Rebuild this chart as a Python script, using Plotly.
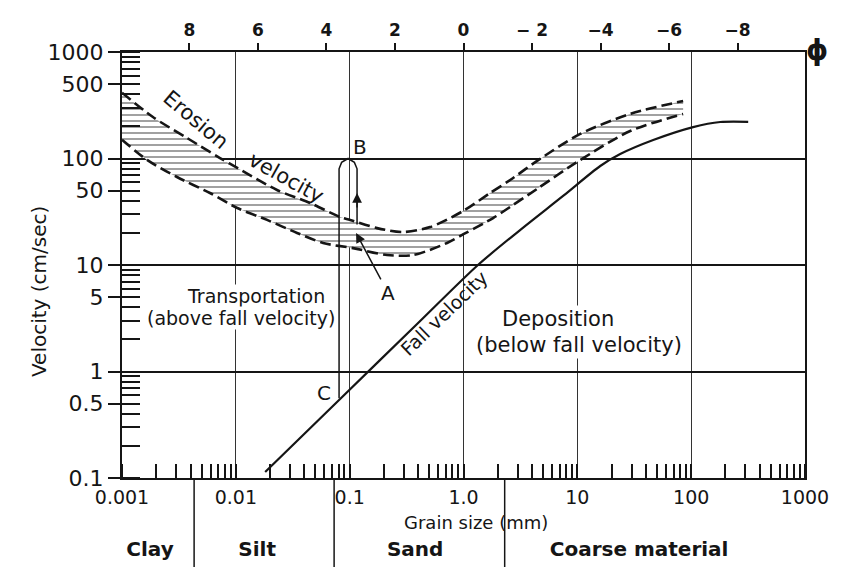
import math
import plotly.graph_objects as go

# ---- data -------------------------------------------------------------
# upper and lower limits of the erosion-velocity band (grain size mm, cm/s)
erosion_upper_size = [0.001, 0.00187, 0.00372, 0.00726, 0.0103, 0.023, 0.0449, 0.0824,
                      0.101, 0.174, 0.294, 0.509, 0.99, 1.71, 2.57, 4.43, 10.6, 29.1, 85]
erosion_upper_vel = [415, 245, 156, 101, 81.5, 50.6, 38.2, 28.2,
                     26.5, 22.2, 20.4, 22.7, 32.1, 47.4, 62.8, 94.9, 170, 262, 347]

erosion_lower_size = [0.001, 0.00166, 0.00304, 0.00593, 0.0103, 0.0188, 0.0345, 0.0584,
                      0.107, 0.213, 0.361, 0.717, 1.05, 1.82, 2.57, 4.43, 9.95, 29.1, 85]
erosion_lower_vel = [150, 97, 67, 47.4, 34.3, 26.5, 20, 16.1,
                     14.4, 12.4, 12.4, 16.1, 20, 27.6, 35.1, 51.8, 92.7, 181, 262]

# fall (settling) velocity curve
fall_size = [0.0181, 0.0824, 0.391, 1.34, 3.14, 7.5, 15.9, 23.8, 46.4, 104, 180, 317]
fall_vel = [0.114, 0.552, 2.79, 10, 21.3, 44.5, 85, 110, 149, 197, 220, 221]

# path of a grain lifted from C up to B and dropped back to A
loop_size = [0.0807, 0.0807, 0.085, 0.0968, 0.110, 0.1161, 0.1161]
loop_vel = [0.56, 80, 92, 100, 92, 80, 24]

# grain-size classes along the bottom
class_bounds = [0.0043, 0.073, 2.3]
class_names = ["Clay", "Silt", "Sand", "Coarse material"]
class_centers = [0.00176, 0.0154, 0.376, 34.9]

# axis ticks
x_ticks = [0.001, 0.01, 0.1, 1, 10, 100, 1000]
x_ticktext = ["0.001", "0.01", "0.1", "1.0", "10", "100", "1000"]
y_ticks = [0.1, 0.5, 1, 5, 10, 50, 100, 500, 1000]
y_ticktext = ["0.1", "0.5", "1", "5", "10", "50", "100", "500", "1000"]
y_grid = [1, 10, 100]
phi_ticks = [8, 6, 4, 2, 0, -2, -4, -6, -8]
phi_ticktext = ["8", "6", "4", "2", "0", "\u2212 2", "\u22124", "\u22126", "\u22128"]

# ---- figure -----------------------------------------------------------
FONT = "DejaVu Sans"
INK = "#151515"
L = math.log10

fig = go.Figure()

fig.add_trace(go.Scatter(
    x=erosion_lower_size, y=erosion_lower_vel, mode="lines",
    line=dict(color=INK, width=2.6, dash="11px,5px", shape="spline", smoothing=0.8),
    hoverinfo="skip", showlegend=False))
fig.add_trace(go.Scatter(
    x=erosion_upper_size, y=erosion_upper_vel, mode="lines", fill="tonexty",
    fillcolor="rgba(255,255,255,0)",
    fillpattern=dict(shape="-", fgcolor="#8f8f8f", bgcolor="white", size=6, solidity=0.28),
    line=dict(color=INK, width=2.6, dash="11px,5px", shape="spline", smoothing=0.8),
    hoverinfo="skip", showlegend=False))

fig.add_trace(go.Scatter(
    x=fall_size, y=fall_vel, mode="lines",
    line=dict(color=INK, width=2.2, shape="spline", smoothing=0.8),
    hoverinfo="skip", showlegend=False))

fig.add_trace(go.Scatter(
    x=loop_size, y=loop_vel, mode="lines",
    line=dict(color=INK, width=1.5),
    hoverinfo="skip", showlegend=False))

# phi axis and grid-only axis carriers
fig.add_trace(go.Scatter(x=[0], y=[1], xaxis="x2", yaxis="y", mode="markers",
                         marker=dict(opacity=0), hoverinfo="skip", showlegend=False))
fig.add_trace(go.Scatter(x=[1], y=[1], xaxis="x", yaxis="y4", mode="markers",
                         marker=dict(opacity=0), hoverinfo="skip", showlegend=False))

# class band below the plot
sep_x, sep_y = [], []
for b in class_bounds:
    sep_x += [b, b, None]
    sep_y += [0, 1, None]
fig.add_trace(go.Scatter(x=sep_x, y=sep_y, xaxis="x3", yaxis="y3", mode="lines",
                         line=dict(color=INK, width=1.5), hoverinfo="skip",
                         showlegend=False))
fig.add_trace(go.Scatter(x=class_centers, y=[0.18] * len(class_centers),
                         xaxis="x3", yaxis="y3", mode="text", text=class_names,
                         textfont=dict(family=FONT, size=20, color=INK, weight="bold"),
                         hoverinfo="skip", showlegend=False))

band_top = 89 / 515

fig.update_layout(
    template="none",
    width=842, height=567,
    margin=dict(l=122, r=37, t=52, b=0, pad=0),
    paper_bgcolor="white", plot_bgcolor="white",
    font=dict(family=FONT, color=INK),
    showlegend=False,
    xaxis=dict(type="log", range=[-3, 3], domain=[0, 1], anchor="y", automargin=False,
               tickmode="array", tickvals=x_ticks, ticktext=x_ticktext,
               tickfont=dict(size=19), ticks="", ticklabelstandoff=1,
               showgrid=True, gridcolor="#333", gridwidth=1,
               showline=True, linecolor=INK, linewidth=2, mirror=True,
               minor=dict(ticks="inside", ticklen=14, tickwidth=1.5,
                          tickcolor=INK, dtick="D1", showgrid=False),
               zeroline=False),
    yaxis=dict(type="log", range=[-1, 3], domain=[band_top, 1], anchor="x",
               automargin=False,
               tickmode="array", tickvals=y_ticks, ticktext=y_ticktext,
               tickfont=dict(size=22), ticks="outside", ticklen=12, tickwidth=2,
               tickcolor=INK, showgrid=False, zeroline=False,
               showline=True, linecolor=INK, linewidth=2, mirror=True,
               minor=dict(ticks="inside", ticklen=18, tickwidth=1.5,
                          tickcolor=INK, dtick="D1", showgrid=False)),
    xaxis2=dict(overlaying="x", side="top", anchor="y", automargin=False,
                range=[3 / L(2), -3 / L(2)],
                tickmode="array", tickvals=phi_ticks, ticktext=phi_ticktext,
                tickfont=dict(size=17, weight="bold"), ticks="outside",
                ticklen=7, tickwidth=2, tickcolor=INK,
                showgrid=False, showline=True, linecolor=INK, linewidth=2,
                zeroline=False),
    yaxis4=dict(type="log", range=[-1, 3], overlaying="y", anchor="x",
                automargin=False,
                tickmode="array", tickvals=y_grid, showticklabels=False,
                ticks="", showgrid=True, gridcolor=INK, gridwidth=2,
                showline=False, zeroline=False),
    xaxis3=dict(type="log", range=[-3, 3], domain=[0, 1], anchor="y3",
                visible=False, automargin=False),
    yaxis3=dict(range=[0, 1], domain=[0, band_top], anchor="x3", visible=False,
                automargin=False),
)

ann = []


def label(text, x, y, size=20, angle=0, bg=None, pad=0):
    d = dict(text=text, x=x, y=y, xref="x", yref="y", showarrow=False,
             textangle=angle, font=dict(family=FONT, size=size, color=INK))
    if bg:
        d.update(bgcolor=bg, borderpad=pad)
    ann.append(d)


label("Erosion", -2.35, 2.36, size=21, angle=40)
label("velocity", -1.555, 1.815, size=21, angle=29)
label("Fall velocity", -0.17, 0.55, size=19, angle=-44)
label("Transportation", -1.8225, 0.7089, size=19, bg="white")
label("(above fall velocity)", -1.9543, 0.5023, size=19, bg="white")
label("Deposition", 0.8313, 0.4930, size=21, bg="white", pad=1)
label("(below fall velocity)", 1.0158, 0.2488, size=21, bg="white", pad=1)
label("B", -0.9086, 2.108, size=20)
label("C", -1.225, -0.202, size=20)

# arrow from label A to the point where the grain settles back
ann.append(dict(text="A", x=L(0.1138), y=L(20.0), xref="x", yref="y",
                ax=32, ay=60, showarrow=True, arrowhead=2, arrowsize=1.3,
                arrowwidth=1.5, arrowcolor=INK, standoff=0,
                font=dict(family=FONT, size=20, color=INK)))
# upward arrow on the ascending limb of the loop
ann.append(dict(text="", x=L(0.1161), y=L(47.5), xref="x", yref="y",
                ax=0, ay=16, showarrow=True, arrowhead=2, arrowsize=1.3,
                arrowwidth=1.5, arrowcolor=INK, standoff=0))

# axis titles
ann.append(dict(text="Velocity (cm/sec)", x=-0.142, y=0.534, xref="paper",
                yref="paper", showarrow=False, textangle=-90,
                font=dict(family=FONT, size=20, color=INK)))
ann.append(dict(text="Grain size (mm)", x=L(1.3), y=0.5, xref="x3", yref="y3",
                showarrow=False, font=dict(family=FONT, size=18, color=INK)))
ann.append(dict(text="\u03d5", x=1.0366, y=1.0388, xref="paper", yref="paper",
                showarrow=False, font=dict(family=FONT, size=28, color=INK,
                                           weight="bold")))

fig.update_layout(annotations=ann)

fig.write_html("out.html")
